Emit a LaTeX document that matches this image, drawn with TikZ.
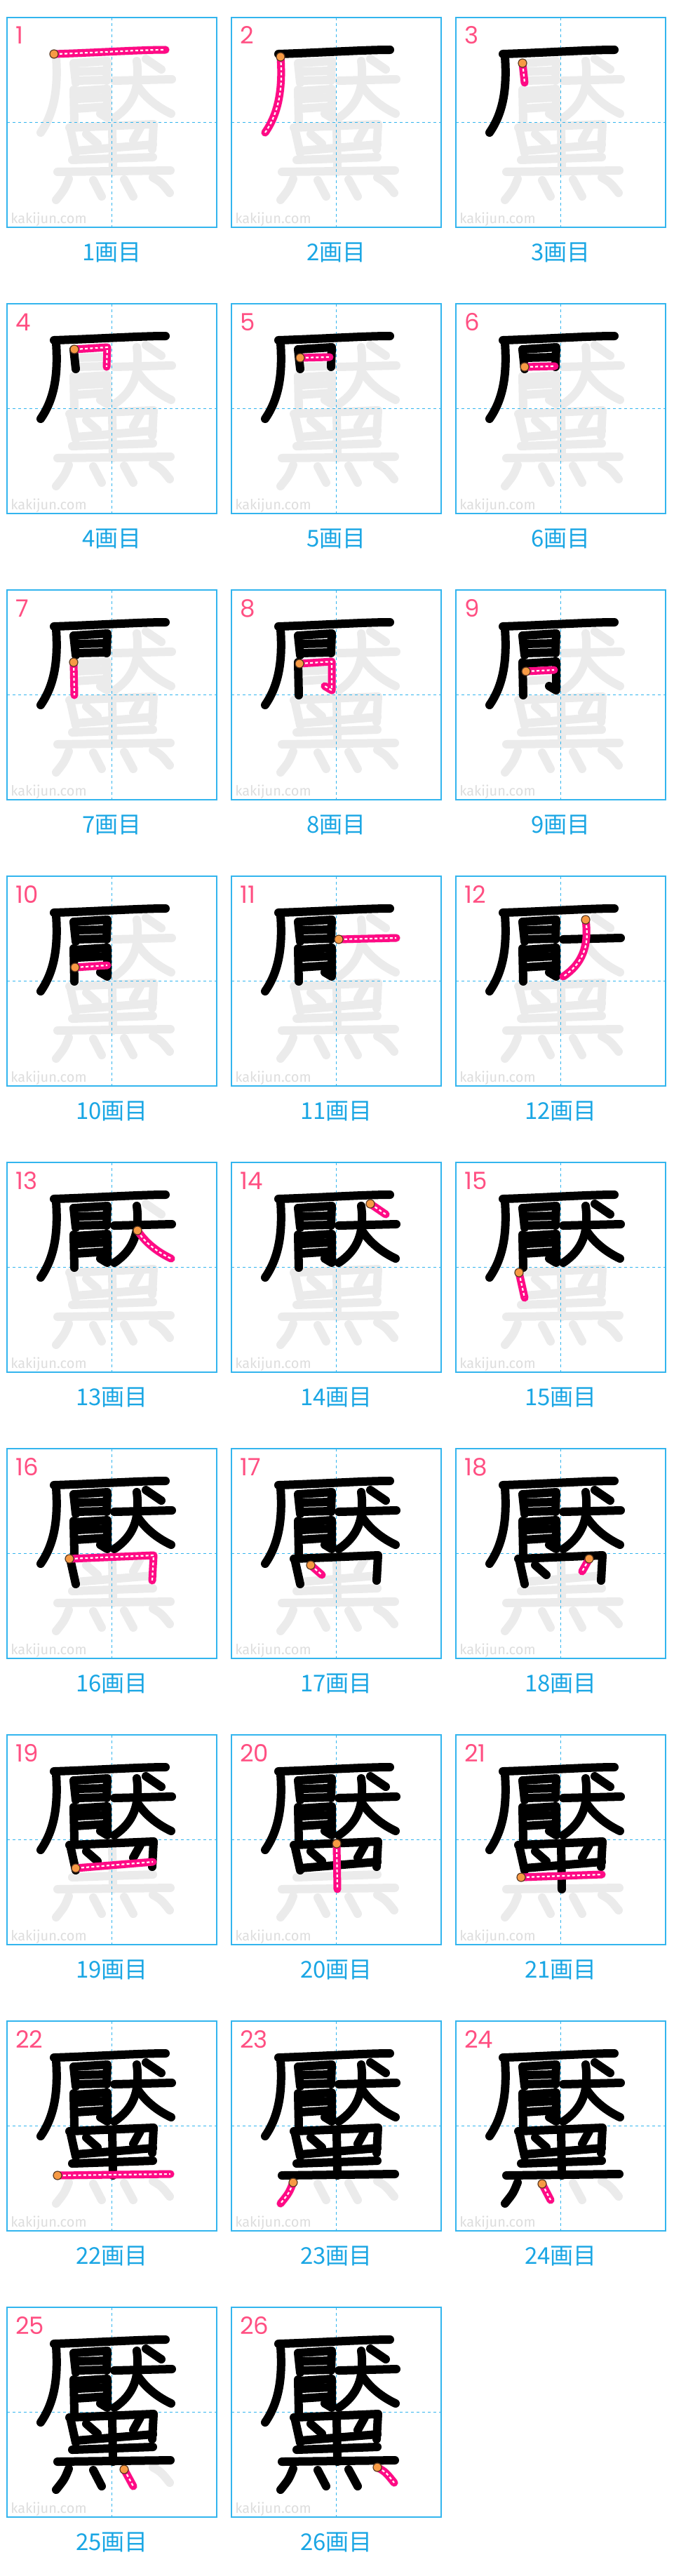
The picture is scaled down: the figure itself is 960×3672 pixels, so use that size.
\documentclass[tikz,border=0pt]{standalone}
\usepackage{fontspec}
\newfontfamily\jpfont{Noto Sans CJK JP}
\newfontfamily\numfont{Poppins}
\newfontfamily\wmfont{Fira Sans}

\definecolor{gridblue}{HTML}{33B5EE}
\definecolor{labelblue}{HTML}{1AA6E4}
\definecolor{numpink}{HTML}{FF4F82}
\definecolor{strokepink}{HTML}{FF0A85}
\definecolor{ghost}{HTML}{EBEBEB}
\definecolor{dotorange}{HTML}{F79A44}
\definecolor{dotrim}{HTML}{5C3A21}
\definecolor{wmgrey}{HTML}{DDDDDD}

% stroke table: start point, then the rest of the path (cell px, y down)
\newcommand\defstroke[3]{%
  \expandafter\def\csname sp#1\endcsname{#2}%
  \expandafter\def\csname st#1\endcsname{#3}}
\newcommand\strk[2]{\draw[#2] \csname sp#1\endcsname \csname st#1\endcsname;}

% gan-dare (厂)
\defstroke{1}{(67,52)}{.. controls (130,50) and (190,46) .. (226,46)}
\defstroke{2}{(70,56)}{.. controls (73,100) and (68,135) .. (48,164)}
% hi (日)
\defstroke{3}{(95,65)}{-- (98,93)}
\defstroke{4}{(96,65)}{-- (143,62) -- (142,90)}
\defstroke{5}{(98,77)}{-- (140,76)}
\defstroke{6}{(98,90)}{-- (141,89)}
% tsuki (月)
\defstroke{7}{(95,103)}{-- (96,150)}
\defstroke{8}{(97,105)}{-- (143,102) -- (143,143) -- (133,137)}
\defstroke{9}{(100,116)}{-- (140,114)}
\defstroke{10}{(97,130)}{-- (143,127)}
% inu (犬)
\defstroke{11}{(153,90)}{-- (235,88)}
\defstroke{12}{(185,62)}{.. controls (190,100) and (180,125) .. (153,143)}
\defstroke{13}{(186,97)}{.. controls (198,115) and (215,128) .. (234,137)}
\defstroke{14}{(198,59)}{-- (220,74)}
% kuro (黑)
\defstroke{15}{(90,157)}{-- (98,193)}
\defstroke{16}{(89,157)}{-- (209,152) -- (207,188)}
\defstroke{17}{(113,166)}{-- (129,180)}
\defstroke{18}{(190,157)}{-- (180,175)}
\defstroke{19}{(98,190)}{-- (208,181)}
\defstroke{20}{(150,155)}{-- (151,220)}
\defstroke{21}{(93,203)}{-- (208,199)}
\defstroke{22}{(72,220)}{-- (233,218)}
\defstroke{23}{(88,230)}{.. controls (82,245) .. (70,260)}
\defstroke{24}{(123,232)}{-- (135,255)}
\defstroke{25}{(167,231)}{-- (180,255)}
\defstroke{26}{(208,228)}{.. controls (220,235) .. (232,250)}

\tikzset{
  ghoststroke/.style={draw=ghost, line width=6pt, line cap=round, line join=round},
  inkstroke/.style={draw=black, line width=6pt, line cap=round, line join=round},
  curstroke/.style={draw=strokepink, line width=5.5pt, line cap=round, line join=round},
  curdots/.style={draw=white, line width=1.1pt, dash pattern=on 2pt off 1.6pt, shorten <=4pt},
  startdot/.style={fill=dotorange, draw=dotrim, line width=0.6pt},
  cellbox/.style={draw=gridblue, line width=0.8pt},
  guide/.style={draw=gridblue, line width=0.8pt, dash pattern=on 2pt off 2pt},
  stepnum/.style={anchor=base west, inner sep=0pt, text=numpink,
    font=\numfont\fontsize{17pt}{17pt}\selectfont},
  steplabel/.style={anchor=base, inner sep=0pt, text=labelblue,
    font=\jpfont\fontsize{16.5pt}{16.5pt}\selectfont},
  watermark/.style={anchor=base west, inner sep=0pt, text=wmgrey,
    font=\wmfont\fontsize{10pt}{10pt}\selectfont}
}

\begin{document}
\begin{tikzpicture}[x=0.5pt,y=-0.5pt]
\useasboundingbox (0,0) rectangle (960,3672);

\foreach \n in {1,...,26}{
  \pgfmathtruncatemacro\col{mod(\n-1,3)}
  \pgfmathtruncatemacro\row{div(\n-1,3)}
  \pgfmathtruncatemacro\prev{\n-1}
  \begin{scope}[shift={({10+320*\col},{25+408*\row})}]
    % cell and guides
    \draw[cellbox] (0,0) rectangle (299,299);
    \node[watermark] (wm\n) at (5,293) {kakijun.com};
    \foreach \k in {1,...,26}{\strk{\k}{ghoststroke}}
    \draw[guide] (149.5,0) -- (149.5,299);
    \draw[guide] (0,149.5) -- (299,149.5);
    % strokes done so far
    \ifnum\prev>0
      \foreach \k in {1,...,\prev}{\strk{\k}{inkstroke}}
    \fi
    % current stroke
    \strk{\n}{curstroke}
    \strk{\n}{curdots}
    \draw[startdot] \csname sp\n\endcsname circle[radius=3pt];
    \node[stepnum] (num\n) at (12,38) {\n};
    \node[steplabel] (lab\n) at (149.5,346) {\n{}画目};
  \end{scope}
}
\end{tikzpicture}
\end{document}
